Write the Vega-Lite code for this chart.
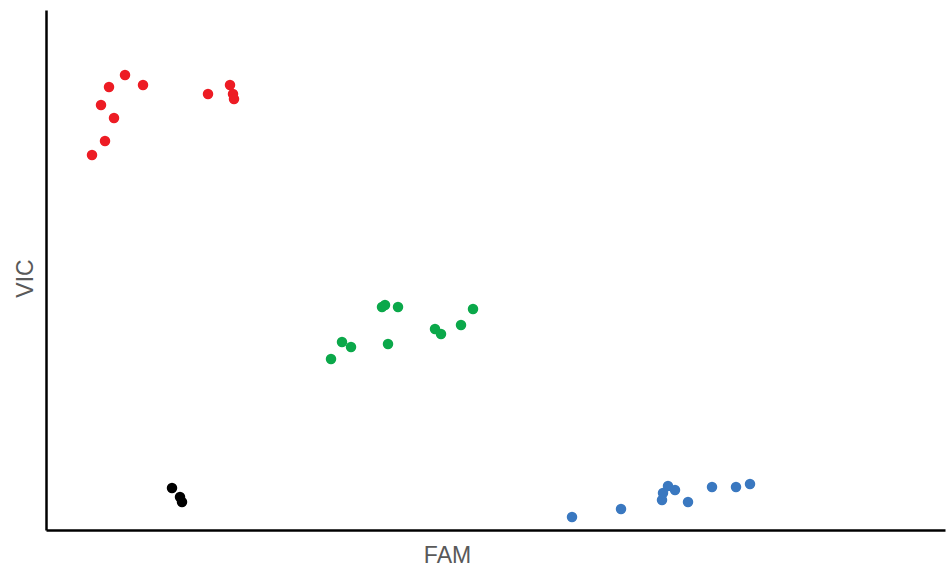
{
  "$schema": "https://vega.github.io/schema/vega-lite/v6.json",
  "width": 899,
  "height": 520,
  "autosize": {"type": "none"},
  "padding": {"left": 46, "top": 10, "right": 4, "bottom": 36},
  "background": "white",
  "config": {"view": {"stroke": null}},
  "data": {
    "values": [
      {"g": "A", "fam": 46, "vic": 375},
      {"g": "A", "fam": 59, "vic": 389},
      {"g": "A", "fam": 55, "vic": 425},
      {"g": "A", "fam": 68, "vic": 412},
      {"g": "A", "fam": 63, "vic": 443},
      {"g": "A", "fam": 79, "vic": 455},
      {"g": "A", "fam": 97, "vic": 445},
      {"g": "A", "fam": 162, "vic": 436},
      {"g": "A", "fam": 184, "vic": 445},
      {"g": "A", "fam": 187, "vic": 436},
      {"g": "A", "fam": 188, "vic": 431},
      {"g": "B", "fam": 285, "vic": 171},
      {"g": "B", "fam": 296, "vic": 188},
      {"g": "B", "fam": 305, "vic": 183},
      {"g": "B", "fam": 336, "vic": 223},
      {"g": "B", "fam": 339, "vic": 225},
      {"g": "B", "fam": 352, "vic": 223},
      {"g": "B", "fam": 342, "vic": 186},
      {"g": "B", "fam": 389, "vic": 201},
      {"g": "B", "fam": 395, "vic": 196},
      {"g": "B", "fam": 415, "vic": 205},
      {"g": "B", "fam": 427, "vic": 221},
      {"g": "C", "fam": 126, "vic": 42},
      {"g": "C", "fam": 134, "vic": 33},
      {"g": "C", "fam": 136, "vic": 28},
      {"g": "D", "fam": 526, "vic": 13},
      {"g": "D", "fam": 575, "vic": 21},
      {"g": "D", "fam": 616, "vic": 30},
      {"g": "D", "fam": 617, "vic": 37},
      {"g": "D", "fam": 622, "vic": 44},
      {"g": "D", "fam": 629, "vic": 40},
      {"g": "D", "fam": 642, "vic": 28},
      {"g": "D", "fam": 666, "vic": 43},
      {"g": "D", "fam": 690, "vic": 43},
      {"g": "D", "fam": 704, "vic": 46}
    ]
  },
  "mark": {"type": "circle", "size": 110, "opacity": 1},
  "encoding": {
    "x": {
      "field": "fam", "type": "quantitative",
      "scale": {"domain": [0, 899], "nice": false, "zero": false},
      "axis": {
        "title": "FAM", "labels": false, "ticks": false, "grid": false,
        "domainColor": "#000000", "domainWidth": 2.5,
        "titleFont": "Liberation Sans", "titleFontSize": 23, "titleFontWeight": "normal",
        "titleColor": "#595959", "titleX": 401, "titleY": 32, "titleAlign": "center",
        "titleBaseline": "alphabetic"
      }
    },
    "y": {
      "field": "vic", "type": "quantitative",
      "scale": {"domain": [0, 520], "nice": false, "zero": false},
      "axis": {
        "title": "VIC", "labels": false, "ticks": false, "grid": false,
        "domainColor": "#000000", "domainWidth": 2.5,
        "titleFont": "Liberation Sans", "titleFontSize": 23, "titleFontWeight": "normal",
        "titleColor": "#595959", "titleX": -14, "titleY": 268, "titleAlign": "center",
        "titleBaseline": "alphabetic", "titleAngle": -90
      }
    },
    "color": {
      "field": "g", "type": "nominal",
      "scale": {"domain": ["A", "B", "C", "D"], "range": ["#ED1C24", "#0BA84A", "#000000", "#3A78C0"]},
      "legend": null
    }
  }
}
